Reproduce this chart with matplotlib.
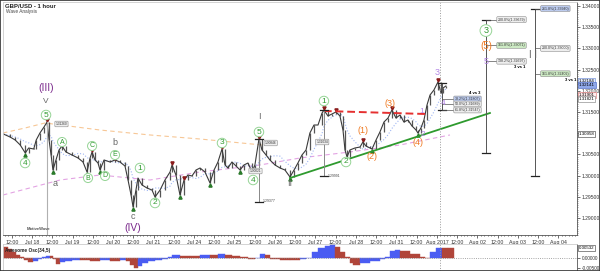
import numpy as np
import pandas as pd
import matplotlib
matplotlib.use('Agg')
import matplotlib.pyplot as plt
from matplotlib.ticker import MultipleLocator, FixedLocator

plt.rcParams['font.family'] = ['Liberation Sans', 'DejaVu Sans']

# -----------------------------
# data (x = trading hours since Jul 17 00:00, weekends skipped)
# -----------------------------
hours = [7, 11, 14, 17, 20, 22, 25, 26.5, 28.7, 31.1, 32.9, 34.1, 35.3, 36.4, 38.2, 40.0,
         41.8, 44.1, 47.7, 51.3, 54.2, 56.6, 58.4, 59.6, 61.3, 63.1, 64.3, 66.7, 70.2, 73.2,
         76.1, 79.1, 80.9, 82.7, 83.9, 85.6, 86.8, 89.2, 92.1, 95.1, 96.9, 99.9, 102.8, 105.8,
         107.0, 109.3, 111.7, 114.1, 116.4, 118.8, 121.2, 123.6, 126.5, 129.5, 131.9, 134.2,
         136.6, 138.4, 140.1, 142.5, 144.9, 147.3, 149.6, 152.0, 154.4, 156.1, 158.5, 160.3,
         162.7, 165.0, 168.0, 171.0, 173.9, 176.9, 179.3, 181.6, 184.0, 186.4, 188.7, 191.1,
         193.5, 195.9, 197.0, 199.4, 201.8, 204.1, 206.5, 208.3, 209.5, 210.7, 212.4, 215.4,
         218.4, 220.1, 221.9, 224.3, 225.5, 227.9, 230.2, 232.6, 235.0, 237.3, 239.7, 242.1,
         244.4, 246.8, 249.2, 251.6, 252.7, 254.5, 256.3, 258.1, 259.9, 262.2, 264.6, 266.4,
         267.6, 269.3]
price = [1.30981, 1.30910, 1.30840, 1.30722, 1.30533, 1.30651, 1.30627, 1.30840, 1.31005,
         1.31146, 1.31264, 1.30840, 1.30486, 1.30132, 1.30368, 1.30604, 1.30698, 1.30557,
         1.30486, 1.30415, 1.30321, 1.30085, 1.30415, 1.30557, 1.30368, 1.30297, 1.30132,
         1.30368, 1.30321, 1.30368, 1.30321, 1.30226, 1.29896, 1.29542, 1.29259, 1.29660,
         1.29943, 1.29778, 1.29708, 1.29660, 1.29495, 1.29660, 1.29896, 1.30085, 1.30250,
         1.30014, 1.29542, 1.29896, 1.30014, 1.29991, 1.30132, 1.30179, 1.30085, 1.29825,
         1.30132, 1.30321, 1.30627, 1.30250, 1.30179, 1.30321, 1.30226, 1.30132, 1.30250,
         1.30297, 1.30085, 1.30250, 1.30863, 1.30604, 1.30486, 1.30368, 1.30250, 1.30179,
         1.30132, 1.29967, 1.30132, 1.30297, 1.30486, 1.30604, 1.31005, 1.31193, 1.31193,
         1.31476, 1.31547, 1.31406, 1.31453, 1.31500, 1.31406, 1.31075, 1.30604, 1.30439,
         1.30604, 1.30651, 1.30674, 1.30792, 1.30698, 1.30651, 1.30627, 1.30840, 1.31028,
         1.31264, 1.31358, 1.31547, 1.31358, 1.31429, 1.31264, 1.31311, 1.31170, 1.31075,
         1.31005, 1.31123, 1.31311, 1.31665, 1.31901, 1.32019, 1.32208, 1.31948, 1.32066,
         1.32113]

# slow moving averages
orange_h = [6.8, 19.9, 31.7, 64.3, 93.9, 123.6, 160.3]
orange_p = [1.31005, 1.31123, 1.31241, 1.31075, 1.30958, 1.30863, 1.30722]
pink_h = [6.8, 40.6, 64.3, 93.9, 123.6, 159.1, 182.8, 212.4, 242.1, 271.7]
pink_p = [1.29542, 1.29896, 1.30014, 1.29896, 1.30085, 1.30250, 1.30415, 1.30557, 1.30722, 1.30958]

frac_high_h = [32.9, 41.8, 59.6, 73.2, 107.0, 114.1, 136.6, 158.5, 197.0, 204.1, 220.1, 237.3, 264.6]
frac_low_h = [20, 36.4, 56.6, 64.3, 83.9, 96.9, 111.7, 129.5, 147.3, 176.9, 210.7, 225.5, 252.7]

# awesome oscillator
ao_h = [6.8, 9.8, 12.1, 14.5, 16.9, 19.3, 21.6, 24.6, 27.6, 29.9, 32.3, 34.7, 36.4, 38.2,
        40.6, 43.6, 47.7, 52.4, 58.4, 64.3, 70.2, 76.1, 79.7, 82.1, 84.4, 86.8, 89.2, 92.7,
        96.9, 101.0, 104.6, 107.0, 111.7, 117.6, 123.6, 129.5, 134.2, 138.4, 142.5, 147.3,
        152.0, 156.1, 159.1, 162.1, 165.0, 171.0, 176.9, 182.8, 186.4, 189.9, 193.5, 197.6,
        200.6, 203.6, 206.5, 209.5, 212.4, 214.2, 218.4, 224.3, 230.2, 233.2, 236.1, 239.1,
        242.1, 248.0, 253.9, 256.9, 259.9, 263.4, 267.0, 270.5]
ao_v = [0.0059, 0.0048, 0.0032, 0.0016, 0.0005, -0.0011, -0.0022, -0.0016, -0.0005, 0.0005,
        0.0011, 0.0011, -0.0005, -0.0032, -0.0022, -0.0016, -0.0011, -0.0011, -0.0016, -0.0011,
        -0.0016, -0.0011, -0.0016, -0.0038, -0.0054, -0.0043, -0.0027, -0.0016, -0.0011, -0.0005,
        0.0005, 0.0016, 0.0011, 0.0011, 0.0016, 0.0016, 0.0022, 0.0016, 0.0011, 0.0005,
        -0.0005, 0.0002, 0.0022, 0.0016, -0.0005, -0.0011, -0.0011, -0.0005, 0.0002, 0.0032,
        0.0054, 0.0065, 0.0075, 0.0059, 0.0032, 0.0005, -0.0027, -0.0038, -0.0027, -0.0016,
        -0.0005, 0.0005, 0.0038, 0.0043, 0.0038, 0.0022, 0.0005, 0.0002, 0.0032, 0.0054,
        0.0054, 0.0054]

tick_hours = list(range(12, 340, 12))
tick_labels = ['12:00', 'Jul 18', '12:00', 'Jul 19', '12:00', 'Jul 20', '12:00', 'Jul 21',
               '12:00', 'Jul 24', '12:00', 'Jul 25', '12:00', 'Jul 26', '12:00', 'Jul 27',
               '12:00', 'Jul 28', '12:00', 'Jul 31', '12:00', 'Aug 2017', '12:00', 'Aug 02',
               '12:00', 'Aug 03', '12:00', 'Aug 04']

GREEN, ORANGE, LPURP, DPURP, GRAY = '#2f9a2f', '#f07a22', '#b487e6', '#7b2a8c', '#666666'

# wave labels: (hour, price, text, colour, size, circled)
waves = [
    (32.3, 1.32066, '(III)', DPURP, 7.5, False), (32.3, 1.31759, 'V', GRAY, 6, False),
    (32.3, 1.31429, '5', GREEN, 6, True), (19.9, 1.30297, '4', GREEN, 6, True),
    (41.8, 1.30792, 'A', GREEN, 5, True), (57.2, 1.29943, 'B', GREEN, 5, True),
    (59.6, 1.30698, 'C', GREEN, 5, True), (67.3, 1.29991, 'D', GREEN, 5, True),
    (73.2, 1.30486, 'E', GREEN, 5, True), (37.6, 1.29825, 'a', GRAY, 6.5, False),
    (73.2, 1.30792, 'b', GRAY, 6.5, False), (83.9, 1.29047, 'c', GRAY, 6.5, False),
    (83.9, 1.28764, '(IV)', DPURP, 7.5, False),
    (88.0, 1.30179, '1', GREEN, 6, True), (96.9, 1.29354, '2', GREEN, 6, True),
    (136.6, 1.30769, '3', GREEN, 6, True), (155.0, 1.29896, '4', GREEN, 6, True),
    (158.5, 1.31028, '5', GREEN, 6, True), (158.5, 1.31382, 'I', GRAY, 6.5, False),
    (176.9, 1.29802, 'II', GRAY, 6.5, False),
    (197.0, 1.31759, '1', GREEN, 6, True), (210.1, 1.30321, '2', GREEN, 6, True),
    (220.1, 1.31052, '(1)', ORANGE, 6.5, False), (225.5, 1.30462, '(2)', ORANGE, 6.5, False),
    (236.1, 1.31689, '(3)', ORANGE, 6.5, False), (252.7, 1.30769, '(4)', ORANGE, 6.5, False),
    (255.1, 1.31500, '1', LPURP, 6, False), (255.7, 1.30958, '2', LPURP, 6, False),
    (264.0, 1.32420, '3', LPURP, 6.5, False), (267.6, 1.31689, '4', LPURP, 6, False),
    (293.0, 1.33420, '3', GREEN, 6.5, True), (293.0, 1.33050, '(5)', ORANGE, 7, False),
    (293.0, 1.32700, '5', LPURP, 6.5, False), (320.9, 1.32844, 'I I', GRAY, 7, False),
]

# -----------------------------
# figure
# -----------------------------
fig = plt.figure(figsize=(6, 2.71), dpi=100)
ax = fig.add_axes([3 / 600, 1 - 235 / 271, 574 / 600, 233 / 271])
ax2 = fig.add_axes([3 / 600, 0, 574 / 600, 27 / 271])

XMIN, XMAX = 6.8, 347.0
ax.set_xlim(XMIN, XMAX)
ax.set_ylim(1.28599, 1.34094)

# moving averages
ax.plot(orange_h, orange_p, color='#f7c796', lw=0.8, ls=(0, (4, 3)))
ax.plot(pink_h, pink_p, color='#e3a3e3', lw=0.8, ls=(0, (4, 3)))
ma = pd.Series(price).rolling(6, min_periods=1).mean()
ax.plot(hours, ma, color='#9fb6f3', lw=0.8, ls=':')

# price bars
p = np.array(price)
ax.vlines(hours[1:], np.minimum(p[:-1], p[1:]), np.maximum(p[:-1], p[1:]), color='#555555', lw=0.9)
ax.plot(hours, price, color='#3a3a3a', lw=0.8)

# fractal markers
ax.plot(frac_high_h, np.interp(frac_high_h, hours, price) + 0.0004, 'v', color='#8a1c1c', ms=2.3)
ax.plot(frac_low_h, np.interp(frac_low_h, hours, price) - 0.0004, '^', color='#2a7a2a', ms=2.3)

# trend lines
ax.plot([197.0, 256.9], [1.31524, 1.31453], color='#e53030', lw=1.4, ls=(0, (4, 2)))
ax.plot([176.9, 295.4], [1.29943, 1.31476], color='#2e9a2e', lw=1.3)
ax.plot([32.9, 32.9], [1.31264, 1.28599], color='#b0b0b0', lw=0.8)
ax.axvline(266, color='#999999', ls=':', lw=0.7)


def tline(x, y0, y1, col='#555555'):
    ax.plot([x, x], [y0, y1], color=col, lw=0.7)
    for y in (y0, y1):
        ax.plot([x - 2.5, x + 2.5], [y, y], color='#222222', lw=0.9)


def fbox(x, y, s, fc, ec='#8a8a8a', fs=2.6):
    ax.text(x, y, s, fontsize=fs, va='center', ha='left', color='#333333',
            bbox=dict(boxstyle='round,pad=0.25', fc=fc, ec=ec, lw=0.4))


# fib projections on the right
tline(293.0, 1.33679, 1.30533)
tline(322.1, 1.33940, 1.30000)
for y, s, fc in [(1.33679, '200.0%(1.33679)', '#eeeeee'), (1.33071, '161.8%(1.33071)', '#cdeac4'),
                 (1.32697, '138.2%(1.32697)', '#eeeeee')]:
    ax.plot([293.0, 300.0], [y, y], color='#555555', lw=0.5)
    fbox(300.0, y, s, fc)
for y, s, fc in [(1.33940, '261.8%(1.33940)', '#bccbee'), (1.33000, '200.0%(1.33000)', '#eeeeee'),
                 (1.32402, '161.8%(1.32402)', '#cdeac4')]:
    ax.plot([322.1, 326.0], [y, y], color='#555555', lw=0.5)
    fbox(326.0, y, s, fc)
ax.text(313.2, 1.32561, '3 vs 1', fontsize=3, weight='bold', ha='center', va='center')
ax.text(343.0, 1.32255, '3 vs 1', fontsize=3, weight='bold', ha='center', va='center')

# 4 vs 3 retracement
tline(267.0, 1.32184, 1.31547)
ax.text(286.5, 1.31948, '4 vs 3', fontsize=3, weight='bold', ha='center', va='center')
for y, s, fc in [(1.31807, '38.2%(1.31807)', '#bccbee'), (1.31689, '50.0%(1.31689)', '#eeeeee'),
                 (1.31547, '61.8%(1.31547)', '#eeeeee')]:
    ax.plot([267.0, 274.5], [y, y], color='#555555', lw=0.5)
    fbox(274.5, y, s, fc)

# small wave measurement lines
tline(158.5, 1.30863, 1.29377, '#888888')
tline(197.0, 1.31547, 1.29991, '#888888')
ax.text(160.5, 1.29390, '1.29377', fontsize=2.5, va='center', color='#444444')
ax.text(199.0, 1.29991, '1.29991', fontsize=2.5, va='center', color='#444444')
fbox(38.0, 1.31217, '1.31260', '#eeeeee', fs=2.3)
fbox(162.0, 1.30769, '1.30846', '#eeeeee', fs=2.3)
fbox(153.0, 1.30108, '1.30021', '#eeeeee', fs=2.3)
fbox(192.5, 1.30792, '1.31034', '#eeeeee', fs=2.3)

for x, y, s, c, fs, circ in waves:
    if circ:
        ax.text(x, y, s, color=c, fontsize=fs, ha='center', va='center', zorder=5,
                bbox=dict(boxstyle='circle,pad=0.15', fc='white', ec='#95d495', lw=0.7))
    else:
        ax.text(x, y, s, color=c, fontsize=fs, ha='center', va='center', zorder=6,
                bbox=dict(boxstyle='square,pad=0.05', fc='white', ec='none', alpha=0.0))

# axes styling
ax.yaxis.tick_right()
ax.yaxis.set_major_locator(MultipleLocator(0.005))
ax.yaxis.set_minor_locator(MultipleLocator(0.0005))
# the 1.31000 level is covered by the moving-average tag on the original
ax.yaxis.set_major_formatter(plt.FuncFormatter(lambda v, _: '' if abs(v - 1.31) < 1e-6 else f'{v:.5f}'))
ax.tick_params(axis='y', which='major', labelsize=3.6, length=2, pad=1.5, colors='#333333', width=0.5)
ax.tick_params(axis='y', which='minor', length=1, width=0.4, colors='#555555')
ax.xaxis.set_major_locator(FixedLocator(tick_hours))
ax.set_xticklabels(tick_labels)
ax.xaxis.set_minor_locator(MultipleLocator(2))
ax.tick_params(axis='x', which='major', labelsize=3.8, length=2, pad=1.5, colors='#333333', width=0.5)
ax.tick_params(axis='x', which='minor', length=1, width=0.4)
for s in ['top', 'left']:
    ax.spines[s].set_color('#cccccc')
for s in ['right', 'bottom']:
    ax.spines[s].set_color('#555555')
for s in ax.spines.values():
    s.set_linewidth(0.6)

# current price tags on the axis
for y, s, fc, ec in [(1.32231, '1.32184', '#e3ecff', '#5f7fd0'), (1.32130, '1.32141', '#8ea7e8', '#4060c0'),
                     (1.31901, '1.31901', '#ffecec', '#e07070'), (1.31814, '1.31821', 'white', '#777777'),
                     (1.30980, '1.30958', 'white', '#333333')]:
    ax.text(348.0, y, s, fontsize=3.2, va='center', ha='left', clip_on=False,
            bbox=dict(boxstyle='square,pad=0.2', fc=fc, ec=ec, lw=0.4))

# -----------------------------
# oscillator panel
# -----------------------------
ao_h_arr = np.array(ao_h)
widths = np.diff(np.append(ao_h_arr, ao_h_arr[-1] + 3.5))
ao = np.array(ao_v)
cols = ['#4a5cf2' if i > 0 and ao[i] > ao[i - 1] else '#b0453a' for i in range(len(ao))]
ax2.bar(ao_h_arr, ao, width=widths, align='edge', color=cols, edgecolor=cols, lw=0.3)
ax2.axhline(0, color='#888888', ls=':', lw=0.6)
ax2.axvline(266, color='#999999', ls=':', lw=0.7)
ax2.set_xlim(XMIN, XMAX)
ax2.set_ylim(-0.0068, 0.0077)
ax2.set_xticks([])
ax2.yaxis.tick_right()
ax2.set_yticks([0, -0.005])
ax2.set_yticklabels(['0.00000', '-0.00500'])
ax2.tick_params(axis='y', labelsize=3.4, length=2, pad=1.5, colors='#333333', width=0.5)
for s in ['top', 'left']:
    ax2.spines[s].set_color('#cccccc')
ax2.spines['right'].set_color('#555555')
ax2.spines['bottom'].set_visible(False)
for s in ax2.spines.values():
    s.set_linewidth(0.6)
ax2.text(0.004, 0.86, 'Awesome Osc(34,5)', transform=ax2.transAxes, fontsize=3.4, weight='bold',
         va='top', color='#222222')
ax2.text(348.0, 0.0054, '0.00532', fontsize=3.2, va='center', ha='left', clip_on=False,
         bbox=dict(boxstyle='square,pad=0.2', fc='white', ec='#333333', lw=0.4))

# titles
fig.text(5 / 600, 1 - 6 / 271, 'GBP/USD - 1 hour', fontsize=4.3, weight='bold', va='center', color='#222222')
fig.text(6 / 600, 1 - 12 / 271, 'Wave Analysis', fontsize=3.4, va='center', color='#444444')
fig.text(27 / 600, 1 - 229 / 271, 'MotiveWave', fontsize=3, va='center', color='#555555', weight='bold')

# outer frame
fig.add_artist(plt.Rectangle((0, 0), 1, 1, transform=fig.transFigure, fill=False, ec='#333333', lw=1.2))

fig.savefig('out.png', dpi=100)
